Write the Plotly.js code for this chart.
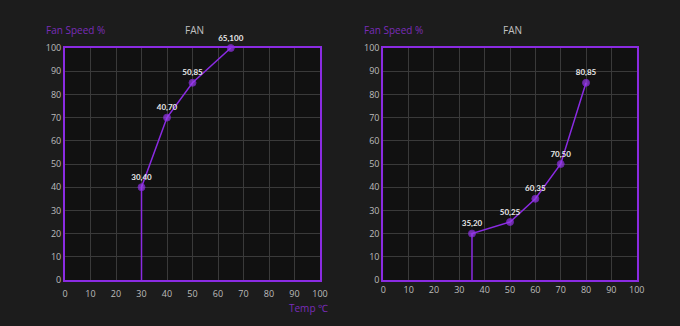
<!DOCTYPE html>
<html><head><meta charset="utf-8">
<script src="https://cdn.plot.ly/plotly-3.0.1.min.js"></script>
<style>html,body{margin:0;padding:0;background:#1c1c1c;}#c{width:680px;height:326px;}</style>
</head><body><div id="c"></div>
<script>
const leftTemp = [30, 30, 40, 50, 65];
const leftSpeed = [0, 40, 70, 85, 100];
const rightTemp = [35, 35, 50, 60, 70, 80];
const rightSpeed = [0, 20, 25, 35, 50, 85];
const tickVals = [0,10,20,30,40,50,60,70,80,90,100];

const purple = '#8a2be2';
const markColor = '#9b3cf0';
function labels(xs, ys){ return xs.map((x,i)=> i===0 ? '' : x+','+ys[i]); }
function sizes(xs){ return xs.map((x,i)=> i===0 ? 0 : 7); }

const traces = [
  {x:leftTemp, y:leftSpeed, xaxis:'x', yaxis:'y', mode:'lines+markers+text', text:labels(leftTemp,leftSpeed),
   textposition:'top center', textfont:{color:'#e8e8e8', size:8, family:'Lato', weight:'bold'},
   line:{color:purple, width:1.5}, marker:{color:markColor, size:sizes(leftTemp)}, cliponaxis:false, hoverinfo:'skip'},
  {x:rightTemp, y:rightSpeed, xaxis:'x2', yaxis:'y2', mode:'lines+markers+text', text:labels(rightTemp,rightSpeed),
   textposition:'top center', textfont:{color:'#e8e8e8', size:8, family:'Lato', weight:'bold'},
   line:{color:purple, width:1.5}, marker:{color:markColor, size:sizes(rightTemp)}, cliponaxis:false, hoverinfo:'skip'}
];

function ax(domain, anchor){
  return {domain:domain, anchor:anchor, range:[0,100], tickvals:tickVals, ticks:'', showgrid:true,
    gridcolor:'#3a3a3a', gridwidth:1, zeroline:false, showline:true, mirror:true, linecolor:purple, linewidth:2,
    tickfont:{color:'#bdbdbd', size:9, family:'Open Sans'}, fixedrange:true};
}
const xa = ax([65/680, 320/680], 'y'); xa.ticklabelstandoff = 4;
const xa2 = ax([383.3/680, 636.7/680], 'y2');
const ydom = [46/326, 278/326];
const layout = {
  width:680, height:326, margin:{l:0,r:0,t:0,b:0},
  paper_bgcolor:'#1c1c1c', plot_bgcolor:'#111111', showlegend:false,
  xaxis:xa, yaxis:ax(ydom,'x'), xaxis2:xa2, yaxis2:ax(ydom,'x2'),
  annotations:[
    {text:'Fan Speed %', xref:'paper', yref:'paper', x:44/680, y:(326-30)/326, xanchor:'left', yanchor:'middle', showarrow:false, font:{color:'#7a2cb8', size:10, family:'Open Sans'}},
    {text:'FAN', xref:'paper', yref:'paper', x:194/680, y:(326-30)/326, xanchor:'center', yanchor:'middle', showarrow:false, font:{color:'#c0c0c0', size:10, family:'Open Sans'}},
    {text:'Temp ℃', xref:'paper', yref:'paper', x:330/680, y:(326-308)/326, xanchor:'right', yanchor:'middle', showarrow:false, font:{color:'#7a2cb8', size:10, family:'Open Sans'}},
    {text:'Fan Speed %', xref:'paper', yref:'paper', x:362/680, y:(326-30)/326, xanchor:'left', yanchor:'middle', showarrow:false, font:{color:'#7a2cb8', size:10, family:'Open Sans'}},
    {text:'FAN', xref:'paper', yref:'paper', x:512/680, y:(326-30)/326, xanchor:'center', yanchor:'middle', showarrow:false, font:{color:'#c0c0c0', size:10, family:'Open Sans'}}
  ]
};
Plotly.newPlot('c', traces, layout, {displayModeBar:false, staticPlot:true});
</script></body></html>
